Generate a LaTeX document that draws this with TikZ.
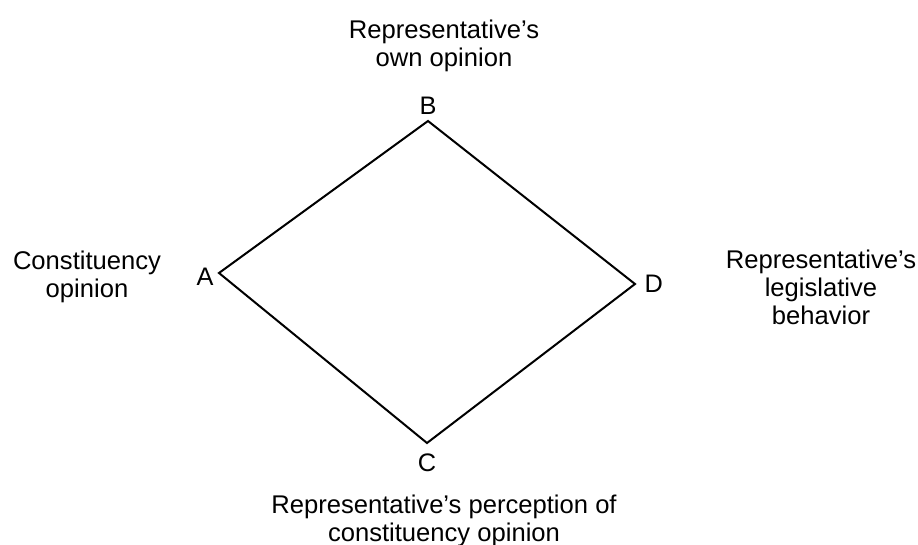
\documentclass[tikz,border=0pt]{standalone}
\usepackage{fontspec}
\setmainfont{Liberation Sans}
\usetikzlibrary{positioning}
\tikzset{
  corner/.style={inner sep=1pt,font=\fontsize{19}{21}\selectfont},
  txt/.style={align=center,inner sep=0pt,font=\fontsize{19.2}{21}\selectfont},
  edge/.style={line width=1.5pt,line join=miter}
}

\begin{document}
\begin{tikzpicture}[x=0.75pt,y=-0.75pt]
  \useasboundingbox (0,0) rectangle (918,545);
  \coordinate (A) at (219,273);
  \coordinate (B) at (428,121);
  \coordinate (D) at (635,284);
  \coordinate (C) at (427,443);

  \draw[edge](A)--(B)--(D)--(C)--cycle;

  \node[corner,left=3pt of A,yshift=-3pt] (la) {A};
  \node[corner,above=4pt of B] (lb) {B};
  \node[corner,right=6pt of D] (ld) {D};
  \node[corner,below=7pt of C] (lc) {C};

  \node[txt] (own) at (444,46) {Representative's\\own opinion};
  \node[txt] (cons) at (87,277) {Constituency\\opinion};
  \node[txt] (leg) at (821,287) {Representative's\\legislative\\behavior};
  \node[txt] (perc) at (444,521) {Representative's perception of\\constituency opinion};
\end{tikzpicture}
\end{document}
